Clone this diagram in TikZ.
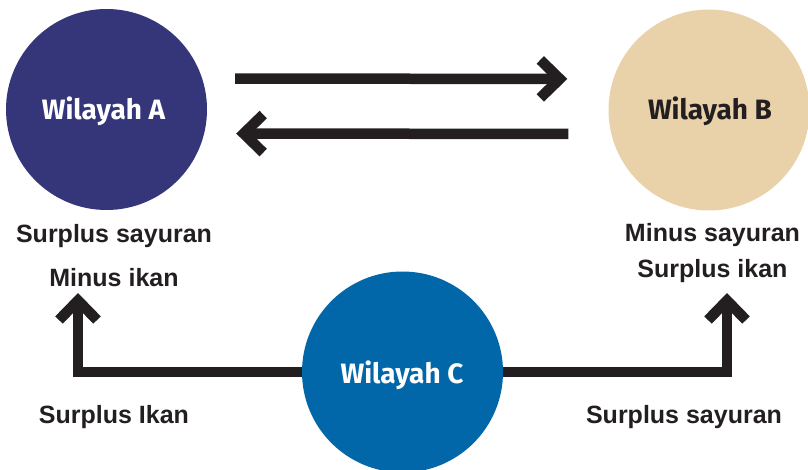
\documentclass[tikz,border=0pt]{standalone}
\usepackage{fontspec}
\usetikzlibrary{arrows.meta}
\newfontfamily\circfont{Fira Sans}
\newfontfamily\labfont{Liberation Sans}
\definecolor{regionA}{HTML}{35357A}
\definecolor{regionB}{HTML}{E9D1A9}
\definecolor{regionC}{HTML}{0267A9}
\definecolor{ink}{HTML}{231F20}
\begin{document}
\begin{tikzpicture}[x=1pt,y=-1pt,
  region/.style={circle, minimum size=201pt, inner sep=0pt, draw=none},
  regionlabel/.style={font=\circfont\bfseries\fontsize{28}{30}\selectfont},
  caption/.style={anchor=base, text=ink, inner sep=0pt,
    font=\labfont\bfseries\fontsize{25}{28}\selectfont},
  flow/.style={draw=ink, line width=10.5pt, line join=miter,
    -{Straight Barb[length=19.5pt, width=38pt, sharp]}}
]
\useasboundingbox (0,0) rectangle (808,470);

% the three regions
\node[region, fill=regionA] (A) at (106.5,109.5) {};
\node[region, fill=regionB] (B) at (709,110) {};
\node[region, fill=regionC] (C) at (402.5,372) {};

\node[regionlabel, text=white, anchor=base] (Aname) at (103.5,120) {Wilayah A};
\node[regionlabel, text=ink, anchor=base] (Bname) at (710,120) {Wilayah B};
\node[regionlabel, text=white, anchor=base] (Cname) at (402,383) {Wilayah C};

% exchange between A and B
\draw[flow, shorten <=28pt, shorten >=41pt] ([yshift=31pt]A.east) -- ([yshift=31pt]B.west);
\draw[flow, shorten <=40pt, shorten >=29pt] ([yshift=-24pt]B.west) -- ([yshift=-24pt]A.east);

% captions under A and B
\node[caption] (Asur) at (114,243) {Surplus sayuran};
\node[caption] (Amin) at (114,287) {Minus ikan};
\node[caption] (Bmin) at (712.5,242) {Minus sayuran};
\node[caption] (Bsur) at (712.5,277) {Surplus ikan};

% supply from C
\coordinate (toA) at (78,293);
\coordinate (toB) at (727,293);
\draw[flow] (C.west) -| (toA);
\draw[flow] (C.east) -| (toB);

\node[caption] (Cfish) at (114,423) {Surplus Ikan};
\node[caption] (Cveg) at (684,423) {Surplus sayuran};
\end{tikzpicture}
\end{document}
